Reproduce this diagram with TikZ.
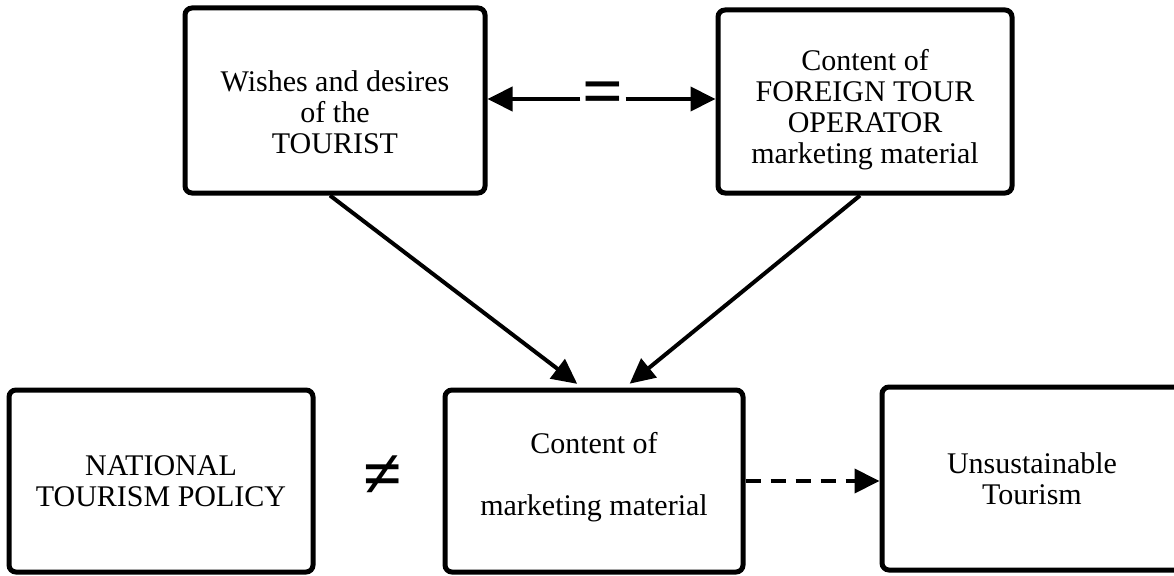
\documentclass[tikz,border=0pt]{standalone}
\usepackage{fontspec}
\setmainfont{Liberation Serif}
\usetikzlibrary{arrows.meta}
\newcommand{\boxfont}{\fontsize{30}{31}\selectfont}

\begin{document}
\begin{tikzpicture}[x=1pt,y=-1pt,
  box/.style={draw,line width=5pt,rounded corners=7pt,align=center,font=\boxfont,inner sep=0pt},
  arr/.style={line width=4pt,-{Triangle[length=25pt,width=24pt]}}]
  \clip (0,0) rectangle (1174,575);
  \node[box,minimum width=300pt,minimum height=185pt] (wish) at (335,100.5) {\rule{0pt}{45pt}Wishes and desires\\of the\\TOURIST};
  \node[box,minimum width=294pt,minimum height=183pt] (op) at (865,101.5) {\rule{0pt}{37pt}Content of\\FOREIGN TOUR\\OPERATOR\\marketing material};
  \node[box,minimum width=304pt,minimum height=182pt] (policy) at (161,481) {NATIONAL\\TOURISM POLICY};
  \node[box,minimum width=298pt,minimum height=182pt] (mat) at (594,481) {Content of\\[31pt]marketing material\rule[-15pt]{0pt}{1pt}};
  \node[box,minimum width=300pt,minimum height=183pt] (unsus) at (1032,478.5) {Unsustainable\\Tourism};
  \node[fill=white,inner sep=2pt,font=\fontsize{72}{72}\selectfont\bfseries] (eq) at (603,99) {=};
  \node[font=\fontsize{70}{70}\selectfont\bfseries] (neq) at (383,477) {≠};
  % connectors
  \draw[arr] (eq) -- (op.west |- eq);
  \draw[arr] (eq) -- (wish.east |- eq);
  \draw[arr,shorten >=6pt] ([xshift=-5pt]wish.south) -- ([xshift=-12pt]mat.north);
  \draw[arr,shorten >=6pt] ([xshift=-5pt]op.south) -- ([xshift=31pt]mat.north);
  \draw[arr,dash pattern=on 15pt off 10pt] (mat.east) -- (mat.east -| unsus.west);
\end{tikzpicture}
\end{document}
